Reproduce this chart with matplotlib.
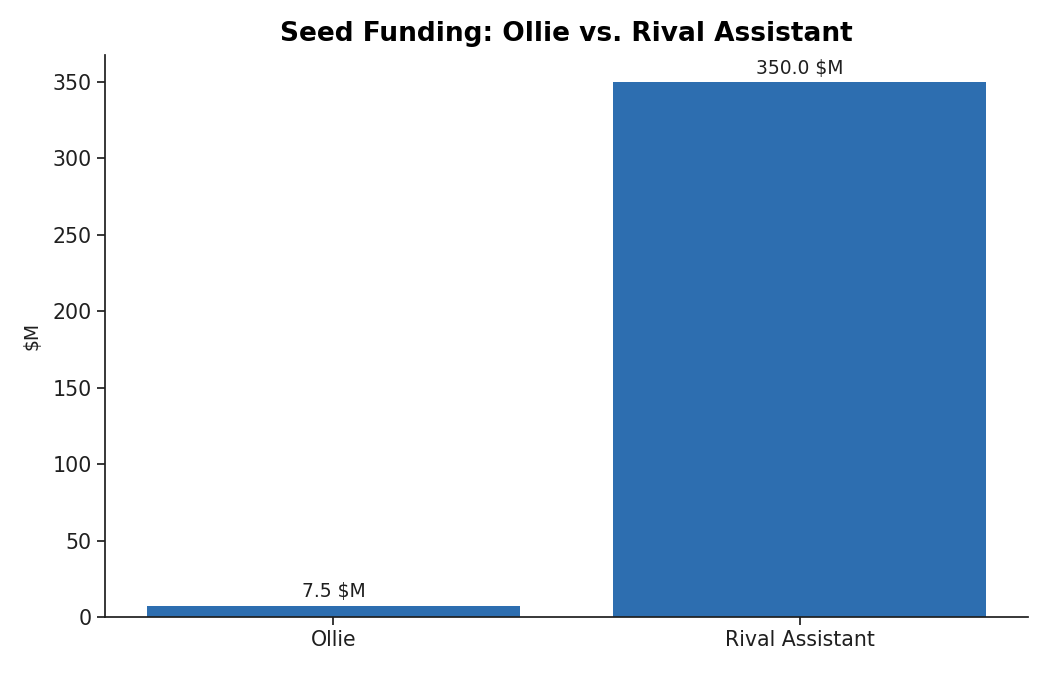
import matplotlib
matplotlib.use("Agg")
import matplotlib.pyplot as plt

# data
companies = ["Ollie", "Rival Assistant"]
funding_musd = [7.5, 350.0]

ink = "#1f1f1f"
fig, ax = plt.subplots(figsize=(10.5, 6.75), dpi=100)
bars = ax.bar(companies, funding_musd, color="#2d6eb0", width=0.8)

for b, v in zip(bars, funding_musd):
    ax.annotate(f"{v:.1f} $M", (b.get_x() + b.get_width() / 2, v),
                xytext=(0, 3), textcoords="offset points",
                ha="center", va="bottom", fontsize=13.5, color=ink)

ax.set_title("Seed Funding: Ollie vs. Rival Assistant", fontsize=19,
             fontweight="bold", color="black", pad=10)
ax.set_ylabel("$M", fontsize=13.5, color=ink, labelpad=8)
ax.tick_params(labelsize=14.8, colors=ink, length=6, width=1.25)
for side in ("left", "bottom"):
    ax.spines[side].set_color(ink)
    ax.spines[side].set_linewidth(1.25)
ax.spines["top"].set_visible(False)
ax.spines["right"].set_visible(False)

fig.subplots_adjust(left=0.1, right=0.979, top=0.9185, bottom=0.0859)
fig.savefig("out.png", dpi=100)
